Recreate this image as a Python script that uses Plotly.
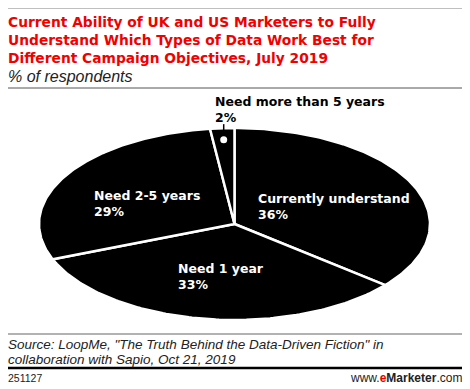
import numpy as np
import plotly.graph_objects as go

# ---- data ----
labels = ["Currently understand", "Need 1 year", "Need 2-5 years", "Need more than 5 years"]
values = [36, 33, 29, 2]

title_lines = [
    "Current Ability of UK and US Marketers to Fully",
    "Understand Which Types of Data Work Best for",
    "Different Campaign Objectives, July 2019",
]
subtitle = "% of respondents"
source_lines = [
    'Source: LoopMe, "The Truth Behind the Data-Driven Fiction" in',
    "collaboration with Sapio, Oct 21, 2019",
]
chart_id = "251127"

# page has an 8px body margin: the figure starts at (8, 8) of the window
OFF = 8
WIN_W, WIN_H = 470, 389
W, H = WIN_W - OFF, WIN_H - OFF
# ellipse geometry in window pixels
CXw, CYw, RX, RY = 234.5, 224.0, 195.5, 96.0
CX, CY = CXw - OFF, CYw - OFF

fig = go.Figure()

total = sum(values)
start = 0.0
mids = []
for lab, v in zip(labels, values):
    a0 = start / total * 360.0
    a1 = (start + v) / total * 360.0
    th = np.radians(np.linspace(a0, a1, 120))
    xs = np.concatenate([[0], np.sin(th), [0]])
    ys = np.concatenate([[0], np.cos(th), [0]])
    fig.add_trace(go.Scatter(x=xs, y=ys, mode="lines", fill="toself",
                             fillcolor="black", line=dict(color="white", width=2.5),
                             hoverinfo="skip", showlegend=False))
    mids.append((a0 + a1) / 2)
    start += v

# leader dot for the small slice
m = np.radians(mids[3])
dot_r = 0.88
dx, dy = dot_r * np.sin(m), dot_r * np.cos(m)
fig.add_trace(go.Scatter(x=[dx, dx], y=[dy, 1.04], mode="lines",
                         line=dict(color="black", width=1.5), hoverinfo="skip", showlegend=False))
fig.add_trace(go.Scatter(x=[dx], y=[dy], mode="markers",
                         marker=dict(color="white", size=7), hoverinfo="skip", showlegend=False))

def px(x):
    return (x - OFF) / W

def py(y):
    return 1 - (y - OFF) / H

FONT = "Liberation Sans, Arial, sans-serif"
BOLD = "DejaVu Sans, sans-serif"
ann = []
for i, t in enumerate(title_lines):
    ann.append(dict(text=f"<b>{t}</b>", x=px(6), y=py(22 + i * 18), font=dict(size=13.8, color="#f00000", family=BOLD)))
ann.append(dict(text=f"<i>{subtitle}</i>", x=px(6), y=py(76), font=dict(size=16, color="#222222", family=FONT)))

# slice labels
label_pos = [(256, 198), (176, 268), (92, 195), (213, 101)]
for (lx, ly), lab, v, col in zip(label_pos, labels, values,
                                 ["white", "white", "white", "black"]):
    ann.append(dict(text=f"<b>{lab}</b>", x=px(lx), y=py(ly), font=dict(size=12.5, color=col, family=BOLD)))
    ann.append(dict(text=f"<b>{v}%</b>", x=px(lx), y=py(ly + 16), font=dict(size=12.5, color=col, family=BOLD)))

for i, t in enumerate(source_lines):
    ann.append(dict(text=f"<i>{t}</i>", x=px(6), y=py(344 + i * 15), font=dict(size=13.5, color="#222222", family=FONT)))
ann.append(dict(text=chart_id, x=px(6), y=py(378), font=dict(size=10.5, color="#222222", family=FONT)))
ann.append(dict(text="www.<b><span style='color:#e60000'>e</span>Marketer</b>.com",
                x=px(464), y=py(378), xanchor="right", font=dict(size=12, color="#222222", family=FONT)))

for a in ann:
    a.setdefault("xanchor", "left")
    a.update(xref="paper", yref="paper", yanchor="middle", showarrow=False, align="left")

shapes = [
    dict(type="line", xref="paper", yref="paper", x0=px(6), x1=px(465), y0=py(7), y1=py(7), line=dict(color="black", width=2.5)),
    dict(type="line", xref="paper", yref="paper", x0=px(6), x1=px(465), y0=py(88), y1=py(88), line=dict(color="#555555", width=1)),
    dict(type="line", xref="paper", yref="paper", x0=px(6), x1=px(465), y0=py(334), y1=py(334), line=dict(color="#999999", width=1.5)),
    dict(type="line", xref="paper", yref="paper", x0=px(6), x1=px(465), y0=py(368), y1=py(368), line=dict(color="black", width=2.5)),
]

fig.update_layout(
    width=W, height=H, autosize=False,
    margin=dict(l=0, r=0, t=0, b=0),
    paper_bgcolor="white", plot_bgcolor="white",
    xaxis=dict(range=[-CX / RX, (W - CX) / RX], visible=False, fixedrange=True),
    yaxis=dict(range=[-(H - CY) / RY, CY / RY], visible=False, fixedrange=True),
    annotations=ann, shapes=shapes, showlegend=False,
)

fig.write_html("out.html", config={"displayModeBar": False})
